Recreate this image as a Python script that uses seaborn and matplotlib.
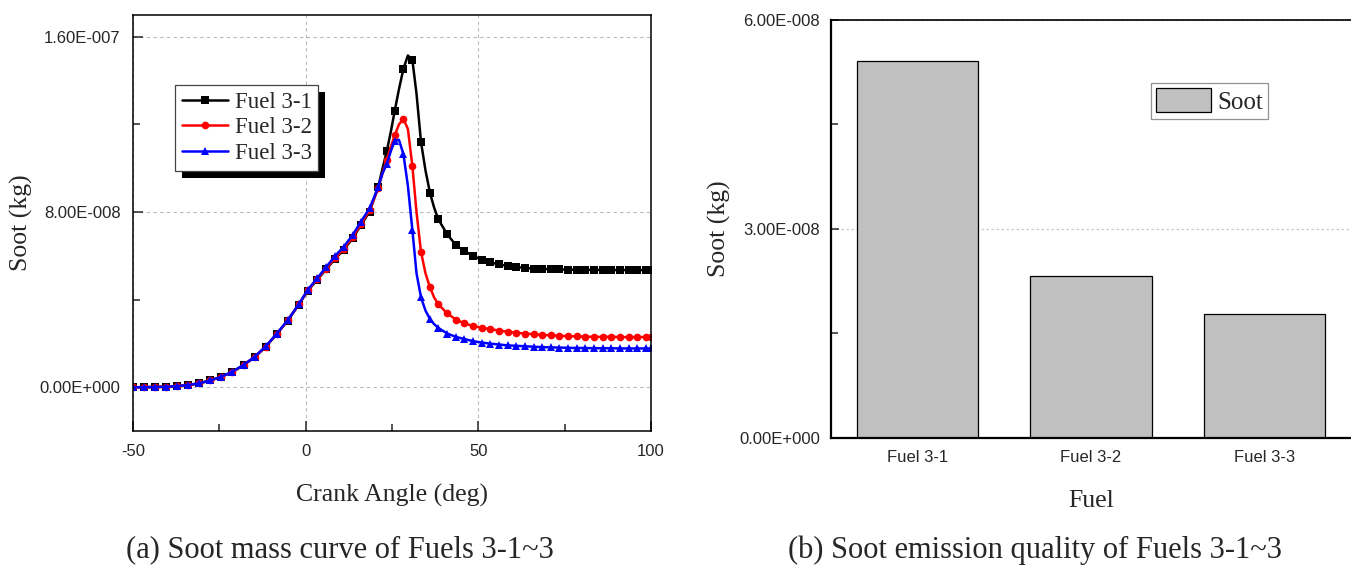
import numpy as np
import pandas as pd
import matplotlib
matplotlib.use("Agg")
import matplotlib.pyplot as plt
import seaborn as sns
from matplotlib.ticker import FixedLocator, FuncFormatter
from matplotlib.patches import Patch, Rectangle
from matplotlib.lines import Line2D

# ---------------- data ----------------
angle = [-50, -46.8, -43.6, -40.4, -37.2, -34.0, -30.8, -27.6, -24.4, -21.2, -18.0, -14.8,
         -11.6, -8.4, -5.2, -2.0, 0.6, 3.3, 5.9, 8.5, 11.0, 13.6, 16.0, 18.5, 21.0,
         22.2, 23.5, 24.7, 25.8, 27.0, 28.3, 29.6, 30.9, 32.1, 33.4, 34.7, 36.0, 37.2, 38.4,
         41.0, 43.5, 45.9, 48.6, 51.0, 53.5, 56.0, 58.5, 61.0, 63.5, 66.0, 68.5, 71.0, 73.5,
         76.0, 78.5, 81.0, 83.5, 86.0, 88.5, 91.0, 93.5, 96.0, 98.5, 100.0]
# angles carrying no marker (curve detail between markers)
unmarked_angles = [22.2, 24.7, 27.0, 29.6, 32.1, 34.7, 37.2]

# soot mass, units of 1e-8 kg
fuel_3_1 = [0.00, 0.00, 0.01, 0.02, 0.05, 0.10, 0.18, 0.31, 0.48, 0.70, 1.00, 1.37,
            1.84, 2.42, 3.04, 3.77, 4.40, 4.90, 5.38, 5.86, 6.27, 6.80, 7.40, 8.02, 9.15,
            9.95, 10.79, 11.70, 12.63, 13.60, 14.54, 15.15, 14.95, 13.40, 11.20, 9.90, 8.88, 8.20, 7.67,
            6.98, 6.49, 6.22, 5.99, 5.82, 5.70, 5.61, 5.54, 5.49, 5.45, 5.42, 5.40, 5.39, 5.38,
            5.37, 5.37, 5.36, 5.36, 5.36, 5.35, 5.35, 5.35, 5.35, 5.35, 5.35]
fuel_3_2 = [0.00, 0.00, 0.01, 0.02, 0.05, 0.10, 0.18, 0.31, 0.48, 0.70, 1.01, 1.38,
            1.85, 2.43, 3.05, 3.78, 4.42, 4.93, 5.42, 5.90, 6.32, 6.85, 7.45, 8.08, 9.08,
            9.75, 10.40, 11.00, 11.50, 12.00, 12.25, 11.80, 10.10, 8.00, 6.18, 5.20, 4.56, 4.10, 3.79,
            3.37, 3.09, 2.92, 2.79, 2.72, 2.65, 2.59, 2.53, 2.49, 2.45, 2.42, 2.39, 2.37, 2.35,
            2.33, 2.32, 2.31, 2.30, 2.30, 2.30, 2.29, 2.29, 2.29, 2.29, 2.29]
fuel_3_3 = [0.00, 0.00, 0.01, 0.02, 0.05, 0.10, 0.18, 0.31, 0.48, 0.71, 1.02, 1.39,
            1.86, 2.44, 3.06, 3.79, 4.45, 4.97, 5.48, 5.99, 6.41, 6.95, 7.56, 8.17, 9.13,
            9.75, 10.20, 10.80, 11.25, 11.30, 10.65, 9.20, 7.18, 5.20, 4.10, 3.50, 3.11, 2.88, 2.71,
            2.45, 2.30, 2.20, 2.10, 2.04, 1.99, 1.95, 1.91, 1.89, 1.87, 1.85, 1.83, 1.82, 1.81,
            1.80, 1.79, 1.79, 1.78, 1.78, 1.78, 1.77, 1.77, 1.77, 1.77, 1.77]
series_names = ["Fuel 3-1", "Fuel 3-2", "Fuel 3-3"]

fuels = ["Fuel 3-1", "Fuel 3-2", "Fuel 3-3"]
soot_total = [5.41e-8, 2.32e-8, 1.78e-8]

assert len(angle) == len(fuel_3_1) == len(fuel_3_2) == len(fuel_3_3)

# ---------------- style ----------------
sns.set_theme(style="ticks")
plt.rcParams["font.family"] = ["Liberation Sans", "DejaVu Sans"]
plt.rcParams["axes.linewidth"] = 1.1
plt.rcParams["axes.unicode_minus"] = False
SERIF = ["Liberation Serif", "DejaVu Serif"]


def sci_fmt(v, pos):
    if abs(v) < 1e-20:
        return "0.00E+000"
    e = int(np.floor(np.log10(abs(v)) + 1e-9))
    m = v / 10 ** e
    return f"{m:.2f}E{'+' if e >= 0 else '-'}{abs(e):03d}"


def int_fmt(v, pos):
    return f"{int(round(v))}"


fig = plt.figure(figsize=(13.51, 5.66), dpi=100)
ax1 = fig.add_axes([133 / 1351, 1 - 431 / 566, 518 / 1351, 416 / 566])
ax2 = fig.add_axes([831 / 1351, 1 - 437.7 / 566, 520 / 1351, 417.7 / 566])

# ---------------- left: curves ----------------
df = pd.DataFrame({"angle": angle,
                   "Fuel 3-1": np.array(fuel_3_1) * 1e-8,
                   "Fuel 3-2": np.array(fuel_3_2) * 1e-8,
                   "Fuel 3-3": np.array(fuel_3_3) * 1e-8})
mark_idx = [i for i, a in enumerate(angle) if a not in unmarked_angles]
colors = ["#000000", "#ff0000", "#0000ff"]
markers = ["s", "o", "^"]
handles = []
for name, c, m in zip(series_names, colors, markers):
    sns.lineplot(data=df, x="angle", y=name, ax=ax1, color=c, linewidth=1.8,
                 marker=m, markersize=5.5, markeredgewidth=0, markevery=mark_idx,
                 sort=False, estimator=None, legend=False)
    handles.append(Line2D([0], [0], color=c, lw=1.8, marker=m, markersize=5.5,
                          markeredgewidth=0))

ax1.set_xlim(-50, 100)
ax1.set_ylim(-2.0e-8, 1.70e-7)
ax1.xaxis.set_major_locator(FixedLocator([-50, 0, 50, 100]))
ax1.xaxis.set_minor_locator(FixedLocator([-25, 25, 75]))
ax1.xaxis.set_major_formatter(FuncFormatter(int_fmt))
ax1.yaxis.set_major_locator(FixedLocator([0, 8e-8, 1.6e-7]))
ax1.yaxis.set_minor_locator(FixedLocator([4e-8, 1.2e-7]))
ax1.yaxis.set_major_formatter(FuncFormatter(sci_fmt))
ax1.tick_params(axis="both", which="both", direction="in", labelsize=12, width=1.1)
ax1.tick_params(axis="both", which="major", length=7)
ax1.tick_params(axis="both", which="minor", length=5)
ax1.tick_params(axis="x", pad=9)
ax1.tick_params(axis="y", pad=9)
ax1.grid(True, which="major", linestyle=(0, (3, 3)), color="#b8b8b8", linewidth=0.8)
ax1.set_axisbelow(True)
for s in ax1.spines.values():
    s.set_visible(True)
    s.set_linewidth(1.1)
    s.set_color("black")
ax1.set_xlabel("Crank Angle (deg)", family=SERIF, fontsize=18.5)
ax1.set_ylabel("Soot (kg)", family=SERIF, fontsize=18.5)
ax1.xaxis.set_label_coords(0.5, -0.128)
ax1.yaxis.set_label_coords(-0.193, 0.5)

leg1 = ax1.legend(handles, series_names, loc="upper left", bbox_to_anchor=(0.081, 0.832),
                  borderaxespad=0, frameon=True, fancybox=False, shadow=False,
                  prop={"family": SERIF, "size": 16.5}, handlelength=2.0, handletextpad=0.3,
                  labelspacing=0.2, borderpad=0.3)
leg1.get_frame().set_edgecolor("#444444")
leg1.get_frame().set_linewidth(0.9)
leg1.get_frame().set_alpha(1)

# ---------------- right: bars ----------------
bar_df = pd.DataFrame({"fuel": fuels, "soot": soot_total})
sns.barplot(data=bar_df, x="fuel", y="soot", ax=ax2, color="#c0c0c0", saturation=1,
            edgecolor="black", linewidth=0.9, width=0.70)
ax2.set_xlim(-0.5, 2.5)
ax2.set_ylim(0, 6e-8)
ax2.yaxis.set_major_locator(FixedLocator([0, 3e-8, 6e-8]))
ax2.yaxis.set_minor_locator(FixedLocator([1.5e-8, 4.5e-8]))
ax2.yaxis.set_major_formatter(FuncFormatter(sci_fmt))
ax2.tick_params(axis="y", which="both", direction="in", labelsize=12, width=1.1, pad=8)
ax2.tick_params(axis="y", which="major", length=6)
ax2.tick_params(axis="y", which="minor", length=5)
ax2.tick_params(axis="x", length=0, labelsize=12, pad=9)
ax2.grid(False)
ax2.yaxis.grid(True, which="major", linestyle=(0, (2, 2)), color="#c8c8c8", linewidth=0.9)
ax2.set_axisbelow(True)
for k, s in ax2.spines.items():
    s.set_visible(True)
    s.set_color("black")
ax2.spines["left"].set_linewidth(1.6)
ax2.spines["bottom"].set_linewidth(1.6)
ax2.spines["top"].set_linewidth(1.2)
ax2.spines["right"].set_visible(False)
ax2.set_xlabel("Fuel", family=SERIF, fontsize=18.5)
ax2.set_ylabel("Soot (kg)", family=SERIF, fontsize=18.5)
ax2.xaxis.set_label_coords(0.5, -0.125)
ax2.yaxis.set_label_coords(-0.192, 0.5)

leg2 = ax2.legend([Patch(facecolor="#c0c0c0", edgecolor="black", linewidth=0.9)], ["Soot"],
                  loc="upper left", bbox_to_anchor=(0.615, 0.849), borderaxespad=0,
                  frameon=True, fancybox=False, prop={"family": SERIF, "size": 18},
                  handlelength=2.2, handleheight=1.1, handletextpad=0.25, borderpad=0.2)
leg2.get_frame().set_edgecolor("#777777")
leg2.get_frame().set_linewidth(0.9)

# ---------------- captions ----------------
fig.text(340 / 1351, 1 - 550 / 566, "(a) Soot mass curve of Fuels 3-1~3",
         family=SERIF, fontsize=22, ha="center", va="center")
fig.text(1035 / 1351, 1 - 550 / 566, "(b) Soot emission quality of Fuels 3-1~3",
         family=SERIF, fontsize=22, ha="center", va="center")

# black drop shadow behind the left legend
fig.canvas.draw()
bb = leg1.get_window_extent()
off = 7
shadow = Rectangle((bb.x0 + off, bb.y0 - off), bb.width, bb.height, transform=None,
                   facecolor="black", edgecolor="none", zorder=4.9, clip_on=False)
ax1.add_artist(shadow)
leg1.set_zorder(5)

fig.savefig("out.png", dpi=100)
